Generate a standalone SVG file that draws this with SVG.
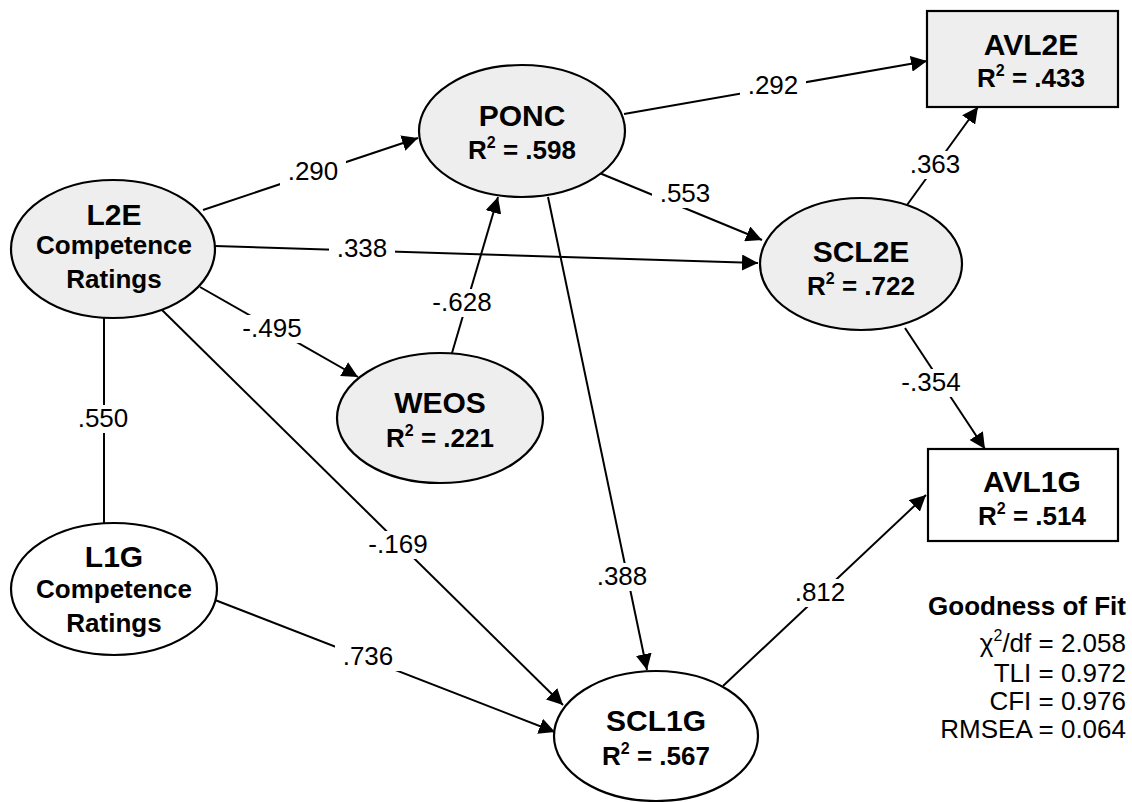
<svg xmlns="http://www.w3.org/2000/svg" width="1132" height="802" viewBox="0 0 1132 802">
<defs>
<marker id="ah" markerUnits="userSpaceOnUse" markerWidth="17" markerHeight="16" refX="16" refY="8" orient="auto">
<path d="M0,0 L16,8 L0,16 z" fill="#000"/>
</marker>
<style>
.nd{stroke:#000;stroke-width:2.2}
.g{fill:#eeeeee}
.w{fill:#ffffff}
.t{font-family:"Liberation Sans",Arial,sans-serif;font-weight:bold;font-size:30px;text-anchor:middle;fill:#000}
.s{font-family:"Liberation Sans",Arial,sans-serif;font-weight:bold;font-size:26px;text-anchor:middle;fill:#000}
.sup{font-size:16px}
.e{stroke:#000;stroke-width:2;fill:none}
.a{marker-end:url(#ah)}
.lb{fill:#fff}
.l{font-family:"Liberation Sans",Arial,sans-serif;font-size:26px;text-anchor:middle;fill:#000}
.f{font-family:"Liberation Sans",Arial,sans-serif;font-size:26px;text-anchor:end;fill:#000}
</style>
</defs>
<rect width="1132" height="802" fill="#fff"/>
<g id="connectors">
<line class="e a" x1="203" y1="210" x2="418" y2="138"/>
<line class="e a" x1="624" y1="114" x2="927" y2="61"/>
<line class="e a" x1="597" y1="172" x2="762" y2="240"/>
<line class="e a" x1="215" y1="246" x2="758" y2="263"/>
<line class="e a" x1="200" y1="287" x2="358" y2="377"/>
<line class="e a" x1="452" y1="353" x2="498" y2="197"/>
<line class="e a" x1="548" y1="197" x2="647" y2="670"/>
<line class="e a" x1="161" y1="309" x2="563" y2="705"/>
<line class="e a" x1="215" y1="600" x2="555" y2="732"/>
<line class="e a" x1="723" y1="686" x2="926" y2="495"/>
<line class="e a" x1="905" y1="328" x2="985" y2="449"/>
<line class="e a" x1="907" y1="205" x2="978" y2="107"/>
<line class="e" x1="104" y1="318" x2="104" y2="523"/>
<rect class="lb" x="280" y="158" width="66" height="28"/>
<text class="l" x="313" y="180">.290</text>
<rect class="lb" x="740" y="72" width="66" height="28"/>
<text class="l" x="773" y="94">.292</text>
<rect class="lb" x="652" y="180" width="66" height="28"/>
<text class="l" x="685" y="202">.553</text>
<rect class="lb" x="329" y="235" width="66" height="28"/>
<text class="l" x="362" y="257">.338</text>
<rect class="lb" x="235" y="315" width="75" height="28"/>
<text class="l" x="272" y="337">-.495</text>
<rect class="lb" x="425" y="289" width="75" height="28"/>
<text class="l" x="462" y="311">-.628</text>
<rect class="lb" x="589" y="563" width="66" height="28"/>
<text class="l" x="622" y="585">.388</text>
<rect class="lb" x="361" y="531" width="75" height="28"/>
<text class="l" x="398" y="553">-.169</text>
<rect class="lb" x="335" y="643" width="66" height="28"/>
<text class="l" x="368" y="665">.736</text>
<rect class="lb" x="787" y="579" width="66" height="28"/>
<text class="l" x="820" y="601">.812</text>
<rect class="lb" x="894" y="369" width="75" height="28"/>
<text class="l" x="931" y="391">-.354</text>
<rect class="lb" x="902" y="151" width="66" height="28"/>
<text class="l" x="935" y="173">.363</text>
<rect class="lb" x="70" y="405" width="66" height="28"/>
<text class="l" x="103" y="427">.550</text>
</g>
<g id="L2E">
<ellipse class="nd g" cx="113" cy="249" rx="102" ry="69"/>
<text class="t" x="114" y="225">L2E</text>
<text class="s" x="114" y="254">Competence</text>
<text class="s" x="114" y="288">Ratings</text>
</g>
<g id="L1G">
<ellipse class="nd w" cx="114" cy="589" rx="103" ry="66"/>
<text class="t" x="114" y="567">L1G</text>
<text class="s" x="114" y="598">Competence</text>
<text class="s" x="114" y="632">Ratings</text>
</g>
<g id="PONC">
<ellipse class="nd g" cx="522" cy="131" rx="103" ry="66"/>
<text class="t" x="522" y="126">PONC</text>
<text class="s" x="522" y="159">R<tspan class="sup" dy="-11">2</tspan><tspan dy="11"> = .598</tspan></text>
</g>
<g id="WEOS">
<ellipse class="nd g" cx="440" cy="418" rx="103" ry="65"/>
<text class="t" x="440" y="413">WEOS</text>
<text class="s" x="440" y="447">R<tspan class="sup" dy="-11">2</tspan><tspan dy="11"> = .221</tspan></text>
</g>
<g id="SCL2E">
<ellipse class="nd g" cx="861" cy="264" rx="101" ry="66"/>
<text class="t" x="861" y="262">SCL2E</text>
<text class="s" x="861" y="295">R<tspan class="sup" dy="-11">2</tspan><tspan dy="11"> = .722</tspan></text>
</g>
<g id="SCL1G">
<ellipse class="nd w" cx="656" cy="736" rx="102" ry="65"/>
<text class="t" x="656" y="731">SCL1G</text>
<text class="s" x="656" y="765">R<tspan class="sup" dy="-11">2</tspan><tspan dy="11"> = .567</tspan></text>
</g>
<g id="AVL2E">
<rect class="nd g" x="927" y="11" width="191" height="96"/>
<text class="t" x="1031" y="55">AVL2E</text>
<text class="s" x="1031" y="87">R<tspan class="sup" dy="-11">2</tspan><tspan dy="11"> = .433</tspan></text>
</g>
<g id="AVL1G">
<rect class="nd w" x="928" y="449" width="190" height="92"/>
<text class="t" x="1032" y="492">AVL1G</text>
<text class="s" x="1032" y="525">R<tspan class="sup" dy="-11">2</tspan><tspan dy="11"> = .514</tspan></text>
</g>
<g id="fit">
<text class="f" x="1126" y="615" font-weight="bold">Goodness of Fit</text>
<text class="f" x="1126" y="652">χ<tspan font-size="16" dy="-11">2</tspan><tspan dy="11">/df = 2.058</tspan></text>
<text class="f" x="1126" y="682">TLI = 0.972</text>
<text class="f" x="1126" y="710">CFI = 0.976</text>
<text class="f" x="1126" y="738">RMSEA = 0.064</text>
</g>
</svg>
